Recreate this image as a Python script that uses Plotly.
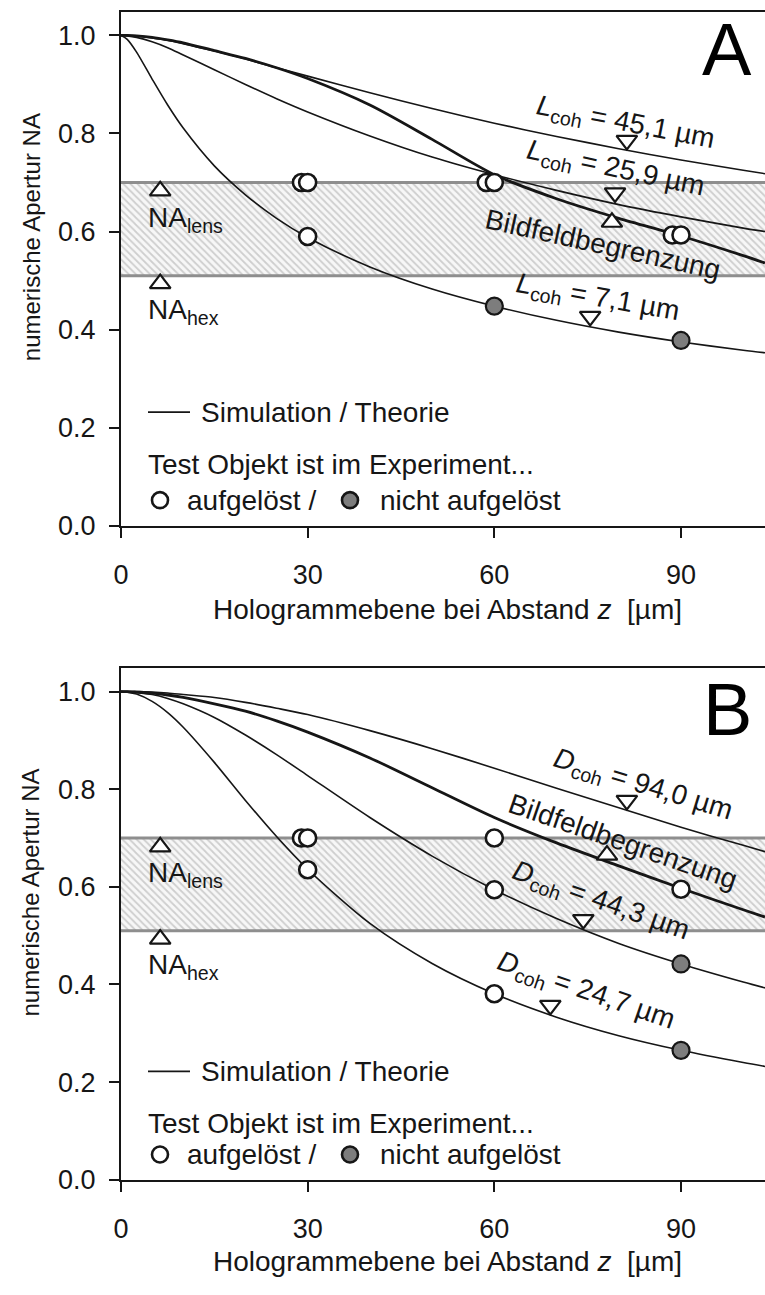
import plotly.graph_objects as go

# ---------------------------------------------------------------- data
Z = [0, 1, 2.5, 5, 7.5, 10, 15, 20, 25, 30, 40, 50, 60, 70, 80, 90, 100, 103.5]

# panel A: temporal coherence length L_coh
lcoh_45_1 = [1.0, 1.0, 0.999, 0.995, 0.990, 0.983, 0.968, 0.952, 0.934, 0.917, 0.883, 0.851, 0.821, 0.794, 0.769, 0.746, 0.725, 0.718]
lcoh_25_9 = [1.0, 0.999, 0.996, 0.987, 0.975, 0.960, 0.930, 0.900, 0.871, 0.844, 0.795, 0.752, 0.716, 0.684, 0.655, 0.630, 0.607, 0.600]
lcoh_7_1 = [1.0, 0.992, 0.966, 0.911, 0.858, 0.811, 0.734, 0.675, 0.627, 0.588, 0.528, 0.483, 0.448, 0.419, 0.395, 0.375, 0.358, 0.353]
bildfeld_A = [1.0, 1.0, 0.999, 0.996, 0.991, 0.985, 0.969, 0.953, 0.934, 0.912, 0.858, 0.788, 0.716, 0.667, 0.627, 0.591, 0.551, 0.536]

# panel B: spatial coherence length D_coh
dcoh_94_0 = [1.0, 1.0, 1.0, 0.999, 0.997, 0.994, 0.988, 0.978, 0.966, 0.953, 0.920, 0.883, 0.843, 0.802, 0.762, 0.722, 0.685, 0.672]
dcoh_44_3 = [1.0, 1.0, 0.998, 0.994, 0.986, 0.975, 0.947, 0.911, 0.871, 0.828, 0.742, 0.663, 0.594, 0.535, 0.484, 0.442, 0.405, 0.393]
dcoh_24_7 = [1.0, 0.999, 0.995, 0.980, 0.957, 0.927, 0.855, 0.777, 0.703, 0.636, 0.525, 0.443, 0.381, 0.333, 0.295, 0.265, 0.240, 0.232]
bildfeld_B = [1.0, 1.0, 0.999, 0.997, 0.993, 0.988, 0.975, 0.960, 0.940, 0.917, 0.864, 0.803, 0.742, 0.690, 0.643, 0.597, 0.553, 0.538]

NA_LENS = 0.70
NA_HEX = 0.51

# experiment: resolved (open) / not resolved (filled)
A_open_z = [29, 30, 30, 58.7, 60, 88.6, 90]
A_open_na = [0.70, 0.70, 0.59, 0.70, 0.70, 0.593, 0.593]
A_fill_z = [60, 90]
A_fill_na = [0.448, 0.378]
B_open_z = [29, 30, 30, 60, 60, 60, 90]
B_open_na = [0.70, 0.70, 0.635, 0.70, 0.594, 0.381, 0.595]
B_fill_z = [90, 90]
B_fill_na = [0.442, 0.265]

# pointer triangles
A_down_z = [81.3, 79.4, 75.4]
A_down_na = [0.786, 0.679, 0.427]
A_up_z = [6.3, 6.3, 78.9]
A_up_na = [0.683, 0.494, 0.619]
B_down_z = [81.3, 74.3, 69.0]
B_down_na = [0.777, 0.533, 0.357]
B_up_z = [6.3, 6.3, 78.1]
B_up_na = [0.682, 0.493, 0.665]

X_TICKS = [0, 30, 60, 90]
Y_TICKS = [0.0, 0.2, 0.4, 0.6, 0.8, 1.0]
X_MAX = 103.5
Y_TOP = 1.048

# ---------------------------------------------------------------- style
W, H = 765, 1295
ML = 121
FONT = "Liberation Sans, Arial, sans-serif"
INK = "#161616"


def paper_x(px):
    return (px - ML) / (W - ML)


def paper_y(py):
    return (H - py) / H


fig = go.Figure()

panels = [
    dict(x="x", y="y",
         curves=[(lcoh_45_1, 1.6), (lcoh_25_9, 1.6), (lcoh_7_1, 1.6), (bildfeld_A, 2.8)],
         open=(A_open_z, A_open_na), fill=(A_fill_z, A_fill_na),
         down=(A_down_z, A_down_na), up=(A_up_z, A_up_na)),
    dict(x="x2", y="y2",
         curves=[(dcoh_94_0, 1.6), (dcoh_44_3, 1.6), (dcoh_24_7, 1.6), (bildfeld_B, 2.8)],
         open=(B_open_z, B_open_na), fill=(B_fill_z, B_fill_na),
         down=(B_down_z, B_down_na), up=(B_up_z, B_up_na)),
]

for p in panels:
    xa, ya = p["x"], p["y"]
    # hatched band between NA_hex and NA_lens
    fig.add_trace(go.Scatter(
        x=[0, X_MAX, X_MAX, 0, 0], y=[NA_HEX, NA_HEX, NA_LENS, NA_LENS, NA_HEX],
        xaxis=xa, yaxis=ya, mode="none", fill="toself", fillcolor="white",
        fillpattern=dict(shape="\\", fgcolor="#a6a6a6", bgcolor="#f7f7f7", size=5, solidity=0.35),
        hoverinfo="skip"))
    for level in (NA_LENS, NA_HEX):
        fig.add_trace(go.Scatter(
            x=[0, X_MAX], y=[level, level], xaxis=xa, yaxis=ya, mode="lines",
            line=dict(color="#8e8e8e", width=3), hoverinfo="skip"))
    for vals, lw in p["curves"]:
        fig.add_trace(go.Scatter(
            x=Z, y=vals, xaxis=xa, yaxis=ya, mode="lines",
            line=dict(color=INK, width=lw, shape="spline", smoothing=0.8)))
    fig.add_trace(go.Scatter(
        x=p["down"][0], y=p["down"][1], xaxis=xa, yaxis=ya, mode="markers",
        marker=dict(symbol="triangle-down", size=18, color="white", line=dict(color=INK, width=2.2))))
    fig.add_trace(go.Scatter(
        x=p["up"][0], y=p["up"][1], xaxis=xa, yaxis=ya, mode="markers",
        marker=dict(symbol="triangle-up", size=18, color="white", line=dict(color=INK, width=2.2))))
    fig.add_trace(go.Scatter(
        x=p["open"][0], y=p["open"][1], xaxis=xa, yaxis=ya, mode="markers",
        marker=dict(symbol="circle", size=17, color="white", line=dict(color=INK, width=2.6))))
    fig.add_trace(go.Scatter(
        x=p["fill"][0], y=p["fill"][1], xaxis=xa, yaxis=ya, mode="markers",
        marker=dict(symbol="circle", size=17, color="#7d7d7d", line=dict(color=INK, width=2.2))))

# ---------------------------------------------------------------- axes
axis_common = dict(showgrid=False, zeroline=False, showline=True, linecolor=INK,
                   linewidth=2.2, ticks="outside", ticklen=10, tickwidth=1.6,
                   tickcolor=INK, tickfont=dict(family=FONT, size=27, color=INK))

dom_A = [paper_y(532), paper_y(12)]
dom_B = [paper_y(1193.5), paper_y(676)]

fig.update_layout(
    width=W, height=H,
    margin=dict(l=ML, r=0, t=0, b=0),
    paper_bgcolor="white", plot_bgcolor="white",
    showlegend=False,
    font=dict(family=FONT, color=INK),
    xaxis=dict(axis_common, domain=[0, 1], range=[0, X_MAX], tickvals=X_TICKS,
               mirror=True, anchor="y", ticklabelstandoff=14),
    yaxis=dict(axis_common, domain=dom_A, range=[0, Y_TOP], tickvals=Y_TICKS,
               tickformat=".1f", anchor="x", ticklabelstandoff=8),
    xaxis2=dict(axis_common, domain=[0, 1], range=[0, X_MAX], tickvals=X_TICKS,
                mirror=True, anchor="y2", ticklabelstandoff=14),
    yaxis2=dict(axis_common, domain=dom_B, range=[0, Y_TOP], tickvals=Y_TICKS,
                tickformat=".1f", anchor="x2", ticklabelstandoff=8),
)

ann = []

# curve labels
curve_labels = [
    ("x", "y", "<i>L</i><sub>coh</sub> = 45,1 µm", 81.0, 0.821, 11),
    ("x", "y", "<i>L</i><sub>coh</sub> = 25,9 µm", 79.4, 0.726, 12),
    ("x", "y", "Bildfeldbegrenzung", 77.5, 0.573, 12.5),
    ("x", "y", "<i>L</i><sub>coh</sub> = 7,1 µm", 76.5, 0.464, 10),
    ("x2", "y2", "<i>D</i><sub>coh</sub> = 94,0 µm", 83.8, 0.807, 17),
    ("x2", "y2", "Bildfeldbegrenzung", 80.7, 0.692, 19),
    ("x2", "y2", "<i>D</i><sub>coh</sub> = 44,3 µm", 77.0, 0.570, 19.5),
    ("x2", "y2", "<i>D</i><sub>coh</sub> = 24,7 µm", 74.6, 0.385, 19),
]
for xr, yr, txt, x, y, ang in curve_labels:
    ann.append(dict(xref=xr, yref=yr, x=x, y=y, text=txt, textangle=ang,
                    showarrow=False, xanchor="center", yanchor="middle",
                    font=dict(family=FONT, size=28, color=INK)))

# NA_lens / NA_hex labels and panel letters
for xr, yr in (("x", "y"), ("x2", "y2")):
    ann.append(dict(xref=xr, yref=yr, x=10.3, y=0.625, text="NA<sub>lens</sub>",
                    showarrow=False, xanchor="center", yanchor="middle",
                    font=dict(family=FONT, size=28, color=INK)))
    ann.append(dict(xref=xr, yref=yr, x=10.0, y=0.437, text="NA<sub>hex</sub>",
                    showarrow=False, xanchor="center", yanchor="middle",
                    font=dict(family=FONT, size=28, color=INK)))
ann.append(dict(xref="x", yref="y", x=97.4, y=0.972, text="A", showarrow=False,
                xanchor="center", yanchor="middle", font=dict(family=FONT, size=74, color="black")))
ann.append(dict(xref="x2", yref="y2", x=97.4, y=0.963, text="B", showarrow=False,
                xanchor="center", yanchor="middle", font=dict(family=FONT, size=74, color="black")))

# axis titles
for py_title, py_y in ((617, 240), (1276, 903)):
    ann.append(dict(xref="paper", yref="paper", x=paper_x(447), y=paper_y(py_title),
                    text="Hologrammebene bei Abstand <i>z</i>  [µm]", showarrow=False,
                    xanchor="center", yanchor="middle", font=dict(family=FONT, size=28, color=INK)))
    ann.append(dict(xref="paper", yref="paper", x=paper_x(31), y=paper_y(py_y),
                    text="numerische Apertur NA", textangle=-90, showarrow=False,
                    xanchor="center", yanchor="middle", font=dict(family=FONT, size=24, color=INK)))

# in-plot legend blocks
shapes = []
for py_sim, py_test, py_row in ((417, 470, 506), (1084, 1137, 1168)):
    shapes.append(dict(type="line", xref="paper", yref="paper",
                       x0=paper_x(148), x1=paper_x(190), y0=paper_y(py_sim), y1=paper_y(py_sim),
                       line=dict(color=INK, width=1.8)))
    ann.append(dict(xref="paper", yref="paper", x=paper_x(199), y=paper_y(py_sim),
                    text="Simulation / Theorie", showarrow=False, xanchor="left", yanchor="middle",
                    font=dict(family=FONT, size=28, color=INK)))
    ann.append(dict(xref="paper", yref="paper", x=paper_x(146), y=paper_y(py_test),
                    text="Test Objekt ist im Experiment...", showarrow=False, xanchor="left",
                    yanchor="middle", font=dict(family=FONT, size=28, color=INK)))
    for cx, col in ((160, "white"), (350, "#7d7d7d")):
        shapes.append(dict(type="circle", xref="paper", yref="paper",
                           xsizemode="pixel", ysizemode="pixel",
                           xanchor=paper_x(cx), yanchor=paper_y(py_row),
                           x0=-8, x1=8, y0=-8, y1=8,
                           fillcolor=col, line=dict(color=INK, width=2.6)))
    ann.append(dict(xref="paper", yref="paper", x=paper_x(185), y=paper_y(py_row),
                    text="aufgelöst /", showarrow=False, xanchor="left", yanchor="middle",
                    font=dict(family=FONT, size=28, color=INK)))
    ann.append(dict(xref="paper", yref="paper", x=paper_x(378), y=paper_y(py_row),
                    text="nicht aufgelöst", showarrow=False, xanchor="left", yanchor="middle",
                    font=dict(family=FONT, size=28, color=INK)))

fig.update_layout(annotations=ann, shapes=shapes)

fig.write_html("out.html")
